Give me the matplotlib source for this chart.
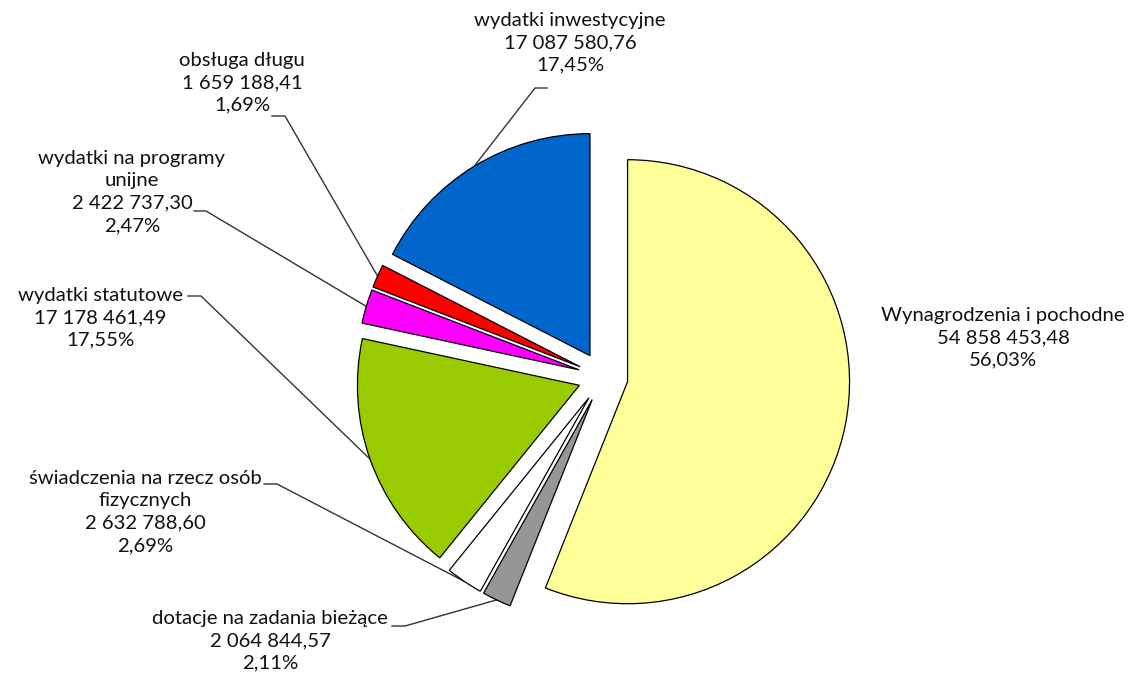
import matplotlib
matplotlib.use("Agg")
import matplotlib.pyplot as plt
import numpy as np

plt.rcParams["font.family"] = ["Lato", "DejaVu Sans"]

# data (clockwise from 12 o'clock)
names = [
    "Wynagrodzenia i pochodne",
    "dotacje na zadania bieżące",
    "świadczenia na rzecz osób\nfizycznych",
    "wydatki statutowe",
    "wydatki na programy\nunijne",
    "obsługa długu",
    "wydatki inwestycyjne",
]
values = [
    54858453.48,
    2064844.57,
    2632788.60,
    17178461.49,
    2422737.30,
    1659188.41,
    17087580.76,
]
colors = ["#FFFF99", "#969696", "#FFFFFF", "#99CC00", "#FF00FF", "#FF0000", "#0066CC"]

# label layout in pixels (y down): text centre, leader stub
label_pos = [
    (1003, 338, None),
    (270, 641, ((392, 626), (405, 626))),
    (145, 512, ((264, 484), (277, 484))),
    (100, 318, ((188, 296), (201, 296))),
    (132, 192, ((194, 211), (206, 211))),
    (242, 83, ((272, 116), (285, 116))),
    (570, 43, ((547, 88), (535, 88))),
]


def fmt_num(v):
    s = f"{v:,.2f}"
    return s.replace(",", " ").replace(".", ",")


W, H = 1145, 680
fig = plt.figure(figsize=(W / 100, H / 100), dpi=100)
ax = fig.add_axes([0, 0, 1, 1])

radius = 222
center = (603, H - 377)
explode = [25] * len(values)  # absolute offset in data units

wedges, _ = ax.pie(
    values,
    colors=colors,
    startangle=90,
    counterclock=False,
    explode=explode,
    radius=radius,
    center=center,
    frame=True,
    wedgeprops=dict(edgecolor="black", linewidth=0.9),
)
ax.set_xlim(0, W)
ax.set_ylim(0, H)
ax.set_aspect("equal")
ax.axis("off")

total = sum(values)
for w, name, val, (tx, ty, stub) in zip(wedges, names, values, label_pos):
    pct = val / total * 100
    txt = f"{name}\n{fmt_num(val)}\n{pct:.2f}%".replace(".", ",")
    ax.text(tx, H - ty, txt, ha="center", va="center", fontsize=14.6,
            color="#111111", linespacing=1.38)
    if stub is None:
        continue
    mid = np.deg2rad((w.theta1 + w.theta2) / 2)
    cx, cy = w.center
    end = (cx + w.r * np.cos(mid), cy + w.r * np.sin(mid))
    (x0, y0), (x1, y1) = stub
    ax.plot([x0, x1, end[0]], [H - y0, H - y1, end[1]],
            color="#333333", lw=1.0, zorder=0.5)

fig.savefig("out.png", dpi=100)
